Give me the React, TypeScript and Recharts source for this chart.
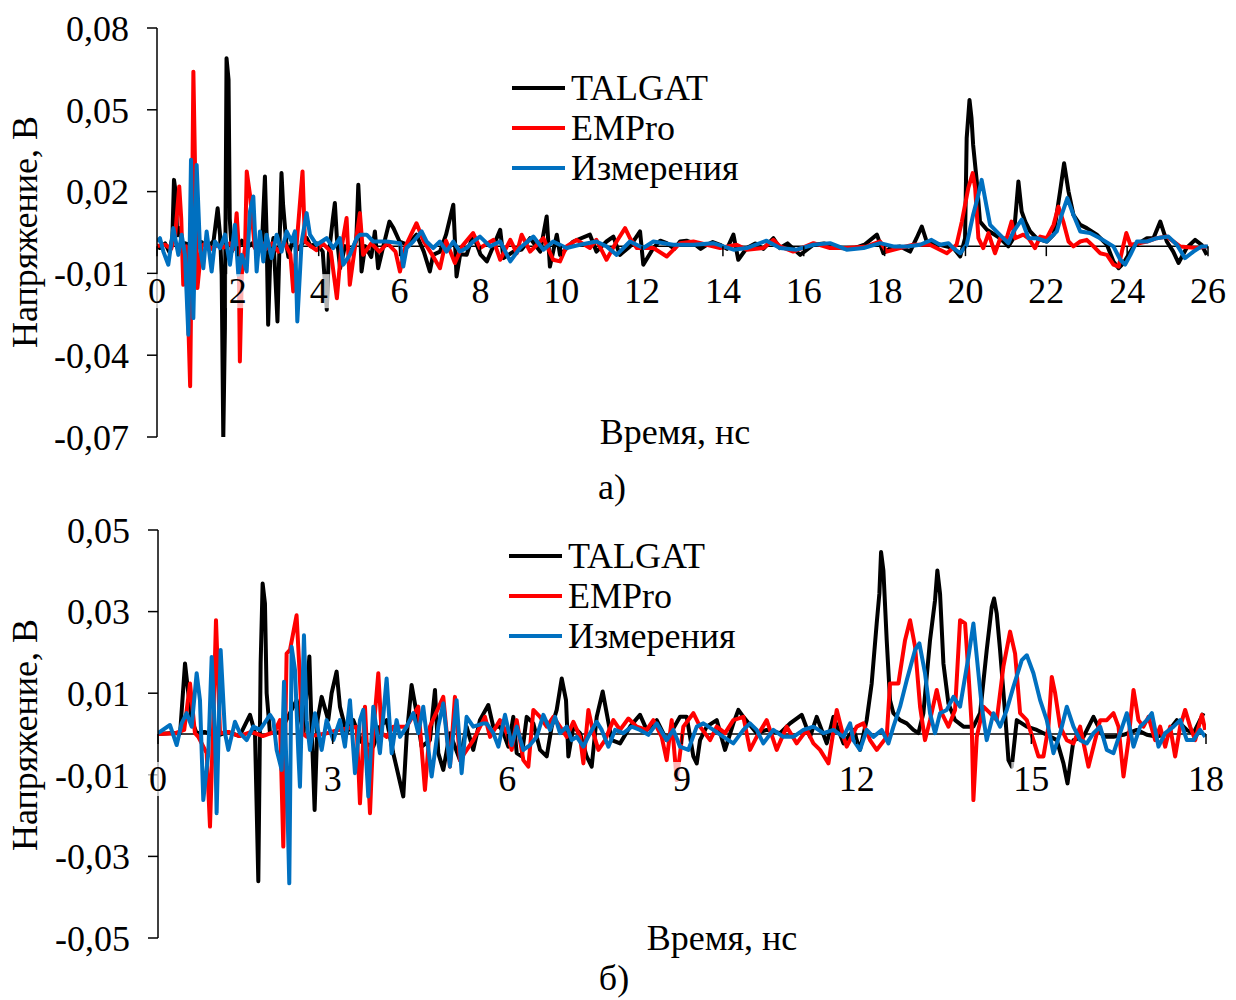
import React from 'react';
import { LineChart, Line, XAxis, YAxis, ReferenceLine, ReferenceDot } from 'recharts';

// time (ns), voltage (V)
const talgatTop: [number, number][] = [
  [0, 0], [0.07, -0.0007], [0.2, 0.001], [0.3, -0.002], [0.38, 0.003], [0.42, 0.0243], [0.46, 0.02], [0.5, 0.004],
  [0.57, 0.0066], [0.62, -0.002], [0.7, 0.001], [0.8, 0.0005], [0.95, -0.001], [1.1, 0.0015], [1.25, -0.0007],
  [1.4, 0.002], [1.5, 0.0139], [1.56, 0.004], [1.6, -0.0105], [1.64, -0.0704], [1.68, -0.03], [1.72, 0.0689],
  [1.77, 0.061], [1.8, 0.01], [1.85, -0.002], [1.93, 0.001], [2.0, -0.0007], [2.1, 0.002], [2.2, -0.001],
  [2.35, 0.001], [2.5, -0.002], [2.6, 0.002], [2.67, 0.0255], [2.71, 0.005], [2.75, -0.0288], [2.8, -0.005],
  [2.88, 0.003], [2.93, -0.012], [2.98, -0.0276], [3.03, 0.0], [3.08, 0.0268], [3.12, 0.015], [3.2, 0.001],
  [3.25, -0.004], [3.35, 0.002], [3.5, -0.001], [3.7, 0.003], [3.8, 0.0], [3.95, 0.001], [4.1, -0.002],
  [4.2, -0.0233], [4.25, -0.003], [4.35, 0.01], [4.4, 0.0158], [4.45, 0.003], [4.53, -0.0081], [4.65, 0.0],
  [4.8, -0.002], [4.93, 0.002], [4.98, 0.0225], [5.02, 0.01], [5.06, -0.0093], [5.15, 0.0], [5.3, -0.004],
  [5.39, 0.0054], [5.47, -0.0081], [5.6, 0.0], [5.75, 0.009], [5.85, 0.0066], [6.0, 0.0017], [6.2, 0.0005],
  [6.42, 0.0042], [6.6, -0.002], [6.75, -0.0093], [6.83, -0.0032], [7.0, -0.002], [7.15, 0.0042], [7.33, 0.0152],
  [7.41, -0.0111], [7.5, -0.003], [7.66, -0.0032], [7.82, 0.0042], [8.0, -0.003], [8.16, -0.0056], [8.35, 0.001],
  [8.49, 0.006], [8.57, -0.0044], [8.82, -0.002], [9.02, -0.0013], [9.23, 0.0029], [9.48, -0.002], [9.64, 0.0109],
  [9.72, -0.0075], [9.89, 0.0042], [9.97, -0.0032], [10.3, 0.0017], [10.71, 0.0042], [10.87, -0.002],
  [11.12, 0.0017], [11.29, 0.0035], [11.45, -0.0032], [11.7, -0.0001], [11.95, 0.0054], [12.03, -0.0068],
  [12.28, -0.0007], [12.45, 0.002], [12.61, 0.0011], [12.8, -0.001], [12.94, 0.0017], [13.1, 0.002],
  [13.27, 0.0011], [13.45, -0.001], [13.6, 0.0005], [13.75, 0.0015], [13.93, 0.0005], [14.1, -0.001],
  [14.26, 0.0042], [14.38, -0.005], [14.59, -0.0007], [14.8, 0.001], [15.0, -0.001], [15.25, 0.0029],
  [15.41, -0.0007], [15.6, 0.001], [15.91, -0.0032], [16.24, 0.0005], [16.5, 0.001], [16.9, -0.0007],
  [17.2, -0.001], [17.5, 0.0005], [17.81, 0.0042], [17.97, -0.0026], [18.14, -0.0007], [18.38, -0.0001],
  [18.63, -0.002], [18.79, 0.0029], [18.92, 0.0072], [19.04, 0.0017], [19.37, 0.0005], [19.7, -0.0007],
  [19.87, -0.0038], [19.99, 0.0029], [20.03, 0.0396], [20.1, 0.0536], [20.15, 0.0469], [20.19, 0.0371],
  [20.28, 0.0237], [20.36, 0.009], [20.53, 0.006], [20.86, 0.0029], [21.06, -0.0001], [21.19, 0.0029],
  [21.31, 0.0237], [21.39, 0.0127], [21.48, 0.009], [21.6, 0.0054], [21.76, 0.0029], [22.01, 0.0017],
  [22.18, 0.0042], [22.34, 0.02], [22.44, 0.0304], [22.55, 0.02], [22.67, 0.0115], [22.84, 0.0078], [23.0, 0.0066],
  [23.25, 0.0042], [23.5, 0.0005], [23.66, -0.0056], [23.79, -0.0081], [23.91, -0.0062], [24.16, -0.0001],
  [24.49, 0.0029], [24.65, 0.0029], [24.82, 0.009], [24.98, 0.0017], [25.14, -0.002], [25.27, -0.0062],
  [25.47, -0.0007], [25.68, 0.0023], [25.84, 0.0005], [25.97, -0.0032],
];

const emproTop: [number, number][] = [
  [0, 0], [0.2, 0.0005], [0.35, -0.001], [0.45, 0.004], [0.55, 0.0219], [0.6, 0.01], [0.65, -0.0142], [0.72, 0.0],
  [0.82, -0.0514], [0.86, 0.0], [0.9, 0.064], [0.94, 0.03], [1.0, -0.0154], [1.1, 0.0], [1.2, 0.001],
  [1.35, -0.001], [1.5, 0.0005], [1.65, -0.0005], [1.8, 0.001], [1.9, -0.001], [1.97, 0.0121], [2.02, 0.0],
  [2.05, -0.0423], [2.1, -0.01], [2.18, 0.0], [2.22, 0.0274], [2.3, 0.0188], [2.42, -0.0007], [2.55, 0.002],
  [2.7, -0.001], [2.85, 0.001], [3.0, -0.002], [3.15, 0.0015], [3.3, -0.003], [3.37, -0.0166], [3.45, 0.0],
  [3.6, 0.0274], [3.66, 0.0017], [3.8, 0.0], [3.95, -0.0015], [4.1, 0.001], [4.3, -0.002], [4.45, -0.0191],
  [4.55, -0.002], [4.69, 0.0103], [4.77, -0.0142], [4.9, 0.0], [5.02, 0.0121], [5.1, -0.0032], [5.3, 0.001],
  [5.5, -0.002], [5.7, 0.001], [5.9, -0.002], [6.01, -0.0093], [6.15, 0.0], [6.42, 0.0084], [6.6, 0.0017],
  [6.8, -0.003], [7.0, -0.0081], [7.15, 0.002], [7.37, -0.0062], [7.55, 0.0], [7.82, 0.0048], [7.99, -0.0007],
  [8.32, 0.0023], [8.49, -0.005], [8.74, 0.0023], [8.9, -0.0026], [9.02, 0.0042], [9.23, -0.002], [9.56, 0.0029],
  [9.8, -0.005], [9.97, -0.0056], [10.13, -0.0001], [10.38, 0.0023], [10.71, -0.0007], [10.87, 0.0023],
  [11.12, -0.005], [11.37, 0.0017], [11.58, 0.0066], [11.7, 0.0029], [11.87, -0.0007], [12.28, -0.0007],
  [12.61, -0.0038], [12.94, 0.0011], [13.27, 0.0017], [13.6, 0.0005], [13.93, -0.0007], [14.34, 0.0005],
  [14.59, -0.0013], [15.0, -0.0007], [15.25, 0.0023], [15.41, -0.0001], [15.74, -0.002], [16.24, 0.0011],
  [16.65, -0.0007], [17.06, -0.0007], [17.56, -0.0001], [17.89, 0.0017], [18.05, -0.002], [18.38, -0.0007],
  [18.71, 0.0005], [19.12, 0.0005], [19.54, -0.0026], [19.78, 0.0005], [19.91, 0.009], [20.07, 0.0213],
  [20.18, 0.0268], [20.24, 0.0213], [20.32, 0.0029], [20.44, -0.0007], [20.57, 0.0048], [20.73, -0.0026],
  [20.86, 0.0029], [21.02, 0.0029], [21.14, 0.009], [21.23, 0.0029], [21.43, 0.0042], [21.56, 0.0029],
  [21.72, -0.0007], [21.85, 0.0035], [22.01, 0.0029], [22.18, 0.0078], [22.3, 0.0145], [22.42, 0.009],
  [22.55, 0.0017], [22.67, -0.0001], [22.84, 0.0017], [23.0, 0.0023], [23.21, -0.0007], [23.33, -0.0026],
  [23.5, -0.0032], [23.66, -0.0068], [23.79, -0.0075], [23.87, -0.002], [23.98, 0.0048], [24.08, 0.0005],
  [24.32, 0.0011], [24.49, 0.0017], [24.73, 0.0029], [24.98, 0.0035], [25.31, -0.0001], [25.72, -0.0007],
  [25.97, -0.0001],
];

const measTop: [number, number][] = [
  [0, 0.0017], [0.074, 0.0029], [0.157, -0.002], [0.28, -0.0068], [0.404, 0.0066], [0.528, -0.0032], [0.61, 0.0042],
  [0.692, -0.0032], [0.775, -0.0325], [0.841, 0.0317], [0.899, -0.0264], [0.981, 0.0298], [1.063, -0.0007],
  [1.146, -0.0081], [1.228, 0.0054], [1.352, -0.0093], [1.434, 0.0017], [1.558, -0.0007], [1.682, 0.0042],
  [1.805, -0.0068], [1.929, 0.0078], [2.012, -0.0105], [2.094, -0.0032], [2.218, -0.0093], [2.3, 0.0127],
  [2.383, 0.0182], [2.465, -0.0093], [2.547, 0.0054], [2.63, -0.0056], [2.712, 0.0042], [2.836, -0.0044],
  [2.96, 0.0042], [3.083, -0.002], [3.207, 0.0054], [3.331, 0.0017], [3.413, 0.0054], [3.471, -0.0276],
  [3.578, 0.0017], [3.702, 0.0121], [3.784, 0.0042], [3.949, 0.0005], [4.196, 0.0029], [4.361, -0.0007],
  [4.526, 0.0029], [4.608, -0.0068], [4.773, -0.0032], [4.938, 0.0029], [5.021, 0.0042], [5.185, 0.0042],
  [5.35, 0.0017], [5.68, 0.0017], [6.01, 0.0011], [6.092, -0.0075], [6.175, -0.0007], [6.34, 0.0017],
  [6.546, 0.0054], [6.669, 0.0017], [6.834, -0.0007], [7.0, 0.0017], [7.164, -0.002], [7.329, 0.0017],
  [7.494, -0.002], [7.659, -0.0007], [7.824, 0.0017], [7.99, 0.0035], [8.24, -0.0001], [8.49, 0.0017],
  [8.74, -0.0056], [8.98, -0.0007], [9.31, 0.0035], [9.56, -0.0013], [9.8, 0.0017], [10.13, -0.0007],
  [10.46, 0.0005], [10.87, 0.0017], [11.12, -0.0001], [11.37, -0.0032], [11.7, 0.0017], [12.03, -0.0007],
  [12.28, 0.0017], [12.77, 0.0005], [13.27, 0.0005], [13.76, 0.0011], [14.26, -0.0013], [14.59, -0.0007],
  [15.08, 0.002], [15.41, -0.0007], [15.82, -0.0013], [16.24, 0.0005], [16.65, 0.0011], [17.06, -0.0013],
  [17.48, -0.0007], [17.89, 0.0011], [18.22, -0.0001], [18.55, -0.0001], [18.88, 0.0005], [19.16, 0.0023],
  [19.37, 0.0005], [19.58, 0.0011], [19.7, -0.0007], [19.87, -0.0026], [20.03, 0.0005], [20.19, 0.0115],
  [20.32, 0.0188], [20.4, 0.0243], [20.53, 0.0139], [20.61, 0.0078], [20.81, 0.0048], [21.06, 0.0011],
  [21.19, 0.0054], [21.39, 0.0097], [21.56, 0.0029], [21.76, 0.0029], [22.01, 0.0017], [22.26, 0.0054],
  [22.38, 0.0115], [22.52, 0.0176], [22.67, 0.0115], [22.84, 0.0054], [23.08, 0.0048], [23.33, 0.0029],
  [23.66, -0.0001], [23.83, -0.005], [23.95, -0.0068], [24.08, -0.0032], [24.24, 0.0017], [24.49, 0.0017],
  [24.73, 0.0029], [25.02, 0.0035], [25.23, 0.0005], [25.43, -0.0044], [25.64, -0.002], [25.84, -0.0001],
  [26.0, -0.0001],
];

const talgatBottom: [number, number][] = [
  [0, 0], [0.2, 0.0002], [0.38, 0.0002], [0.464, 0.0173], [0.521, 0.01], [0.578, 0.0034], [0.664, 0.0002],
  [0.8, 0.0005], [1.0, -0.0005], [1.2, 0.0005], [1.4, -0.0005], [1.58, 0.0047], [1.666, 0.0002], [1.723, -0.0361],
  [1.763, 0.0173], [1.797, 0.0369], [1.837, 0.032], [1.866, 0.01], [1.923, 0.0002], [2.1, 0.0005], [2.381, 0.0083],
  [2.5, 0.0002], [2.6, 0.019], [2.63, 0.0051], [2.69, -0.0186], [2.74, 0.0034], [2.811, 0.0091], [2.925, 0.0034],
  [2.982, 0.01], [3.068, 0.0153], [3.125, 0.0067], [3.24, 0.0002], [3.354, 0.0034], [3.5, -0.002], [3.698, -0.0031],
  [3.812, 0.0018], [3.927, 0.0034], [4.041, -0.0047], [4.213, -0.0153], [4.27, -0.0007], [4.356, 0.012],
  [4.442, 0.0051], [4.528, -0.0031], [4.671, -0.0015], [4.757, 0.0108], [4.814, -0.0047], [4.9, -0.0088],
  [5.014, 0.0002], [5.186, -0.0064], [5.3, 0.0018], [5.415, -0.0039], [5.529, 0.0034], [5.673, 0.0071],
  [5.758, 0.0018], [5.873, 0.0018], [5.932, 0.0002], [6.017, -0.0031], [6.103, 0.0042], [6.161, -0.0047],
  [6.247, -0.0055], [6.333, 0.0042], [6.447, 0.0026], [6.562, -0.0039], [6.676, -0.0055], [6.762, 0.0018],
  [6.848, 0.0059], [6.934, 0.0136], [7.008, 0.0083], [7.048, -0.0055], [7.134, 0.0018], [7.249, 0.0002],
  [7.363, -0.0055], [7.449, -0.008], [7.535, 0.0042], [7.638, 0.0104], [7.696, 0.0059], [7.793, -0.0015],
  [7.936, -0.0023], [8.108, 0.0018], [8.279, 0.0047], [8.394, 0.001], [8.566, 0.0034], [8.737, -0.0015],
  [8.966, 0.0042], [9.081, 0.0042], [9.195, -0.0055], [9.253, -0.0072], [9.31, -0.0015], [9.424, 0.0018],
  [9.596, 0.0034], [9.739, -0.0039], [9.882, 0.0026], [9.968, 0.0059], [10.054, 0.0042], [10.283, 0.0002],
  [10.455, 0.001], [10.684, 0.0002], [10.856, 0.0026], [11.056, 0.0047], [11.199, -0.0007], [11.314, 0.0042],
  [11.486, -0.0023], [11.601, 0.0042], [11.773, -0.0023], [11.944, 0.001], [12.057, -0.0039], [12.172, 0.0034],
  [12.258, 0.0124], [12.344, 0.0271], [12.39, 0.0344], [12.419, 0.0446], [12.459, 0.0401], [12.516, 0.023],
  [12.573, 0.0083], [12.631, 0.0051], [12.745, 0.0034], [12.86, 0.0026], [12.974, 0.001], [13.06, 0.0002],
  [13.146, 0.0051], [13.26, 0.023], [13.346, 0.0328], [13.386, 0.0401], [13.432, 0.0344], [13.49, 0.0173],
  [13.576, 0.0075], [13.69, 0.0034], [13.834, 0.0018], [14.005, 0.0018], [14.12, 0.0051], [14.234, 0.0206],
  [14.32, 0.0312], [14.36, 0.0332], [14.406, 0.0295], [14.463, 0.0206], [14.549, 0.0051], [14.607, -0.0064],
  [14.664, -0.008], [14.75, 0.0034], [14.922, 0.0018], [15.094, 0.001], [15.265, -0.0002], [15.437, -0.0015],
  [15.552, -0.0072], [15.621, -0.0121], [15.724, -0.0015], [15.895, -0.0007], [16.067, 0.0042], [16.239, -0.0007],
  [16.411, -0.0007], [16.583, -0.0002], [16.812, 0.001], [16.984, -0.0002], [17.155, -0.0007], [17.327, 0.0002],
  [17.499, 0.0034], [17.671, 0.001], [17.785, 0.0002], [17.957, 0.0051],
];

const emproBottom: [number, number][] = [
  [0, 0], [0.3, 0.0002], [0.45, 0.001], [0.55, 0.0124], [0.635, 0.0002], [0.693, -0.0007], [0.836, -0.0047],
  [0.893, -0.0227], [0.95, 0.0034], [0.996, 0.0279], [1.065, 0.0002], [1.2, 0.0005], [1.4, -0.0005], [1.6, 0.0005],
  [1.8, -0.0005], [2.0, 0.0005], [2.095, 0.0034], [2.152, -0.0276], [2.209, 0.0197], [2.267, 0.0206],
  [2.38, 0.0291], [2.43, 0.0157], [2.48, 0.0002], [2.553, -0.0007], [2.9, 0.0002], [3.1, 0.001], [3.412, 0.0018],
  [3.469, -0.017], [3.555, 0.0067], [3.641, -0.0194], [3.698, 0.0002], [3.784, 0.0149], [3.841, 0.0002],
  [3.927, -0.0007], [4.041, 0.0018], [4.27, 0.0018], [4.471, 0.0067], [4.585, -0.0137], [4.671, 0.0018],
  [4.9, 0.0091], [5.014, -0.008], [5.1, 0.0091], [5.186, -0.0064], [5.415, -0.0015], [5.617, 0.0042],
  [5.703, -0.0007], [5.874, 0.0034], [5.989, 0.0002], [6.075, -0.0039], [6.161, 0.0034], [6.275, -0.0064],
  [6.361, -0.008], [6.447, 0.0059], [6.562, 0.0042], [6.676, 0.0018], [6.791, 0.0042], [6.905, 0.0018],
  [7.02, -0.0007], [7.134, 0.003], [7.249, -0.0007], [7.306, -0.0072], [7.392, 0.0059], [7.478, 0.0002],
  [7.564, -0.0039], [7.678, -0.0015], [7.821, 0.0034], [7.936, 0.001], [8.079, 0.0038], [8.222, 0.0018],
  [8.394, 0.001], [8.508, 0.0034], [8.651, -0.0007], [8.737, -0.0064], [8.823, 0.0034], [8.909, -0.0113],
  [9.023, 0.0018], [9.195, 0.0051], [9.31, 0.0018], [9.482, -0.0015], [9.596, 0.0018], [9.739, 0.0002],
  [9.882, 0.0034], [10.054, 0.0042], [10.168, -0.0039], [10.283, -0.0007], [10.455, 0.0034], [10.626, -0.0039],
  [10.798, 0.0018], [10.97, -0.0023], [11.142, 0.001], [11.257, -0.0023], [11.371, -0.0039], [11.515, -0.0072],
  [11.658, 0.0059], [11.773, -0.0007], [11.829, -0.0031], [12.0, 0.0018], [12.115, 0.0026], [12.229, -0.0015],
  [12.344, -0.0039], [12.516, -0.0007], [12.573, 0.0124], [12.717, 0.0124], [12.831, 0.023], [12.917, 0.0279],
  [13.003, 0.0214], [13.089, 0.0067], [13.174, -0.0015], [13.26, 0.0034], [13.375, 0.0108], [13.461, 0.0051],
  [13.576, 0.0018], [13.69, 0.0059], [13.776, 0.0279], [13.862, 0.0271], [13.92, 0.0149], [13.977, 0.0018],
  [14.005, -0.0162], [14.063, -0.0007], [14.177, 0.0067], [14.292, 0.0051], [14.406, 0.0034], [14.52, 0.0165],
  [14.635, 0.0251], [14.721, 0.0197], [14.807, 0.0051], [14.922, 0.0034], [15.036, -0.0015], [15.122, -0.0055],
  [15.208, -0.0055], [15.294, 0.0018], [15.351, 0.014], [15.409, 0.01], [15.495, 0.0018], [15.609, -0.0015],
  [15.724, -0.0023], [15.838, 0.0018], [15.981, -0.008], [16.067, -0.0031], [16.182, 0.0034], [16.296, 0.0034],
  [16.411, 0.0051], [16.497, 0.0018], [16.583, -0.0104], [16.669, -0.0015], [16.755, 0.0108], [16.84, 0.0034],
  [16.926, 0.0018], [17.012, 0.0042], [17.127, -0.0015], [17.213, 0.0018], [17.299, -0.0031], [17.384, 0.0018],
  [17.47, -0.0055], [17.556, 0.0018], [17.642, 0.0059], [17.728, 0.0018], [17.814, -0.0015], [17.929, 0.0047],
  [17.986, 0.001],
];

const measBottom: [number, number][] = [
  [0, 0.0002], [0.206, 0.0022], [0.321, -0.0027], [0.406, 0.0026], [0.492, 0.0051], [0.578, 0.0018],
  [0.664, 0.0149], [0.721, 0.0083], [0.778, -0.0162], [0.864, -0.0047], [0.922, 0.0189], [0.979, 0.0002],
  [1.007, -0.0194], [1.076, 0.0206], [1.151, 0.0002], [1.208, -0.0039], [1.322, 0.003], [1.408, 0.0002],
  [1.523, -0.0015], [1.637, 0.0018], [1.752, 0.001], [1.923, 0.0047], [1.981, 0.0034], [2.038, -0.0039],
  [2.124, -0.0088], [2.164, 0.0128], [2.209, -0.0096], [2.255, -0.0366], [2.295, 0.0214], [2.353, 0.0157],
  [2.41, -0.0047], [2.438, -0.0129], [2.507, 0.0242], [2.553, 0.0034], [2.61, -0.0039], [2.696, 0.0051],
  [2.811, -0.0039], [2.896, 0.0034], [3.011, -0.0015], [3.125, 0.0034], [3.211, -0.0031], [3.297, 0.0083],
  [3.383, -0.0096], [3.469, 0.0034], [3.526, 0.0059], [3.612, -0.0153], [3.698, 0.0067], [3.812, -0.0047],
  [3.927, 0.0136], [4.013, -0.0047], [4.098, 0.0034], [4.156, -0.0007], [4.27, 0.0018], [4.385, 0.0051],
  [4.471, 0.0002], [4.556, 0.0067], [4.7, -0.0104], [4.814, 0.0018], [4.9, 0.0075], [5.014, -0.008],
  [5.129, 0.0083], [5.215, -0.0096], [5.3, 0.0042], [5.415, 0.0018], [5.587, 0.0026], [5.645, 0.0026],
  [5.76, 0.0002], [5.846, -0.0031], [5.96, 0.0047], [6.075, -0.0027], [6.161, 0.0018], [6.275, -0.0039],
  [6.39, -0.0027], [6.504, -0.0007], [6.619, 0.0047], [6.733, 0.001], [6.82, 0.0042], [6.905, 0.0002],
  [7.02, 0.0018], [7.106, -0.0015], [7.192, -0.0007], [7.306, -0.0031], [7.421, 0.0002], [7.535, 0.003],
  [7.621, 0.001], [7.736, -0.0031], [7.85, 0.001], [7.993, 0.0002], [8.136, 0.0018], [8.279, 0.001],
  [8.422, -0.0002], [8.566, 0.0026], [8.737, -0.0015], [8.852, 0.001], [8.966, -0.0031], [9.109, -0.0039],
  [9.253, 0.0018], [9.367, 0.0026], [9.539, 0.001], [9.711, -0.0007], [9.882, -0.0023], [10.054, 0.001],
  [10.168, 0.0026], [10.283, 0.001], [10.397, -0.0023], [10.569, 0.001], [10.741, -0.0007], [10.913, -0.0007],
  [11.085, 0.001], [11.257, 0.0018], [11.429, 0.0002], [11.601, 0.001], [11.773, -0.0007], [11.887, 0.0026],
  [11.943, -0.0015], [12.057, -0.0039], [12.172, 0.001], [12.287, -0.0007], [12.43, 0.001], [12.545, -0.0023],
  [12.631, 0.0018], [12.745, 0.0067], [12.86, 0.0132], [13.003, 0.0206], [13.077, 0.0222], [13.174, 0.0149],
  [13.26, 0.0051], [13.346, 0.0002], [13.432, 0.0051], [13.547, 0.0059], [13.662, 0.0091], [13.776, 0.0067],
  [13.92, 0.0189], [14.005, 0.0271], [14.063, 0.0189], [14.149, 0.0067], [14.234, -0.0015], [14.349, 0.0051],
  [14.463, 0.0018], [14.578, 0.0059], [14.693, 0.0116], [14.836, 0.0181], [14.922, 0.0193], [15.036, 0.0149],
  [15.151, 0.0083], [15.265, 0.0034], [15.38, -0.0047], [15.495, 0.0002], [15.609, 0.0067], [15.724, 0.0018],
  [15.838, -0.0015], [15.953, -0.0023], [16.067, 0.0002], [16.182, 0.0018], [16.296, -0.0039], [16.411, -0.0047],
  [16.525, 0.0002], [16.64, 0.0051], [16.755, -0.0031], [16.869, 0.0018], [16.984, 0.0034], [17.07, 0.0051],
  [17.184, -0.0031], [17.299, 0.0002], [17.442, 0.0018], [17.556, 0.0034], [17.671, -0.0015], [17.785, -0.0015],
  [17.9, 0.001], [17.986, -0.0007],
];

const seriesNames = ['TALGAT', 'EMPro', 'Измерения'];
const seriesColors = ['#000000', '#ff0000', '#0070c0'];

const xTicksTop = [0, 2, 4, 6, 8, 10, 12, 14, 16, 18, 20, 22, 24, 26];
const yTicksTop = [-0.07, -0.04, -0.01, 0.02, 0.05, 0.08];
const xTicksBottom = [0, 3, 6, 9, 12, 15, 18];
const yTicksBottom = [-0.05, -0.03, -0.01, 0.01, 0.03, 0.05];

const FONT = "'Liberation Serif', 'Tinos', 'DejaVu Serif', 'Noto Serif', serif";
const toPts = (arr: [number, number][]) => arr.map(([t, v]) => ({ t, v }));
const fmt = (v: number) => v.toFixed(2).replace('.', ',');

function xTickShape(label: string) {
  return (p: any) => {
    const w = label.length * 18 + 4;
    return (
      <g>
        <line x1={p.cx} y1={p.cy} x2={p.cx} y2={p.cy + 10} stroke="#000" strokeWidth={1.5} />
        <rect x={p.cx - w / 2} y={p.cy + 28} width={w} height={34} fill="#fff" fillOpacity={0.7} />
        <text x={p.cx} y={p.cy + 57} textAnchor="middle" fontSize={36} fontFamily={FONT} fill="#000">
          {label}
        </text>
      </g>
    );
  };
}

interface PanelProps {
  top: number;
  margin: { top: number; right: number; bottom: number; left: number };
  xMax: number;
  xTicks: number[];
  yTicks: number[];
  series: [number, number][][];
}

function Panel({ top, margin, xMax, xTicks, yTicks, series }: PanelProps) {
  return (
    <div style={{ position: 'absolute', left: 0, top }}>
      <LineChart width={1236} height={500} margin={margin}>
        <XAxis type="number" dataKey="t" domain={[0, xMax]} hide allowDataOverflow />
        <YAxis
          type="number"
          domain={[yTicks[0], yTicks[yTicks.length - 1]]}
          ticks={yTicks}
          interval={0}
          width={60}
          tickSize={10}
          tickMargin={18}
          tickFormatter={fmt}
          axisLine={{ stroke: '#000', strokeWidth: 1.5 }}
          tickLine={{ stroke: '#000', strokeWidth: 1.5 }}
          tick={{ fill: '#000', fontSize: 36, fontFamily: FONT }}
          allowDataOverflow
        />
        <ReferenceLine y={0} stroke="#000" strokeWidth={1.5} />
        {series.map((s, i) => (
          <Line
            key={seriesNames[i]}
            data={toPts(s)}
            dataKey="v"
            type="linear"
            stroke={seriesColors[i]}
            strokeWidth={4}
            strokeLinejoin="round"
            dot={false}
            isAnimationActive={false}
          />
        ))}
        {xTicks.map((t) => (
          <ReferenceDot key={t} x={t} y={0} r={0} ifOverflow="visible" shape={xTickShape(String(t))} />
        ))}
      </LineChart>
    </div>
  );
}

function LegendBlock({ x, y }: { x: number; y: number }) {
  return (
    <g>
      {seriesNames.map((n, i) => (
        <g key={n}>
          <line x1={x} y1={y + i * 40} x2={x + 53} y2={y + i * 40} stroke={seriesColors[i]} strokeWidth={4} />
          <text x={x + 59} y={y + i * 40 + 12} fontSize={36} fontFamily={FONT} fill="#000">
            {n}
          </text>
        </g>
      ))}
    </g>
  );
}

export default function App() {
  return (
    <div style={{ position: 'absolute', left: 0, top: 0, width: 1236, height: 1000, background: '#fff', overflow: 'hidden' }}>
      <Panel
        top={0}
        margin={{ top: 28, right: 28, bottom: 63, left: 97 }}
        xMax={26}
        xTicks={xTicksTop}
        yTicks={yTicksTop}
        series={[talgatTop, emproTop, measTop]}
      />
      <Panel
        top={500}
        margin={{ top: 30, right: 30, bottom: 62, left: 98 }}
        xMax={18}
        xTicks={xTicksBottom}
        yTicks={yTicksBottom}
        series={[talgatBottom, emproBottom, measBottom]}
      />
      <svg width={1236} height={1000} style={{ position: 'absolute', left: 0, top: 0, pointerEvents: 'none' }}>
        <g fontFamily={FONT} fontSize={36} fill="#000">
          <text transform="translate(37,232) rotate(-90)" textAnchor="middle">Напряжение, В</text>
          <text transform="translate(37,735) rotate(-90)" textAnchor="middle">Напряжение, В</text>
          <text x={675} y={444} textAnchor="middle">Время, нс</text>
          <text x={722} y={950} textAnchor="middle">Время, нс</text>
          <text x={612} y={499} textAnchor="middle">а)</text>
          <text x={614} y={990} textAnchor="middle">б)</text>
        </g>
        <LegendBlock x={512} y={88} />
        <LegendBlock x={509} y={556} />
      </svg>
    </div>
  );
}
